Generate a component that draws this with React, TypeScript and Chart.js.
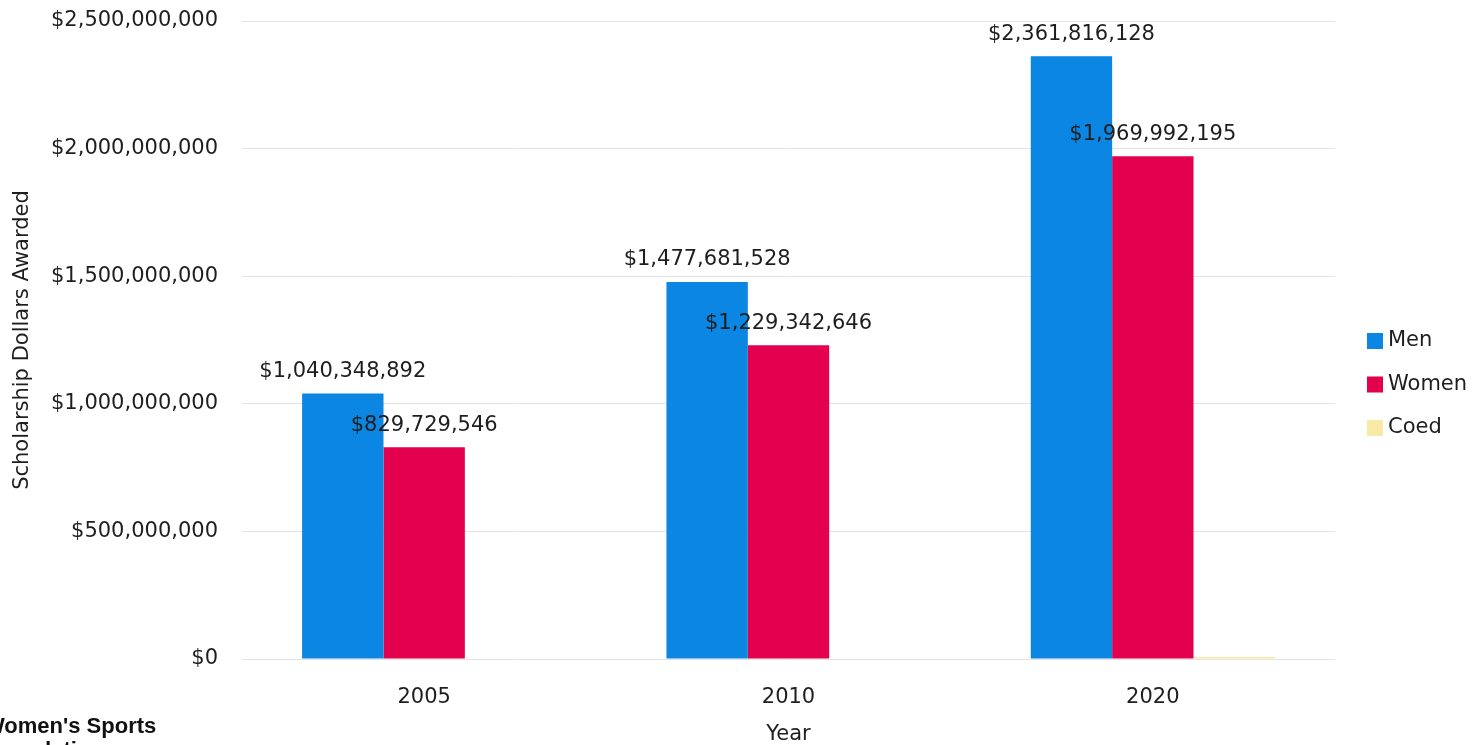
import React, { useEffect, useRef } from "react";
import { Chart, registerables } from "chart.js";

Chart.register(...registerables);

const years = ["2005", "2010", "2020"];
const menValues = [1040348892, 1477681528, 2361816128];
const womenValues = [829729546, 1229342646, 1969992195];
const coedValues = [0, 0, 8000000];
const seriesNames = ["Men", "Women", "Coed"];
const seriesColors = ["#0b86e3", "#e2004f", "#f8eaa4"];
const yTickMax = 2500000000;
const yTickStep = 500000000;
const yTitle = "Scholarship Dollars Awarded";
const xTitle = "Year";
const logoLines = ["Women's Sports", "Foundation"];

const FONT = '"DejaVu Sans", sans-serif';
const TEXT = "#1e1e1e";
const FS = 21;

const fmt = (v: number) => "$" + Math.round(v).toLocaleString("en-US");

const labelPlugin = {
  id: "barLabels",
  afterDatasetsDraw(chart: any) {
    const ctx = chart.ctx;
    ctx.save();
    ctx.font = `${FS}px ${FONT}`;
    ctx.fillStyle = TEXT;
    ctx.textAlign = "center";
    ctx.textBaseline = "middle";
    [0, 1].forEach((di) => {
      const meta = chart.getDatasetMeta(di);
      meta.data.forEach((el: any, i: number) => {
        const v = chart.data.datasets[di].data[i] as number;
        if (!v) return;
        ctx.fillText(fmt(v), el.x, el.y - 22);
      });
    });
    ctx.restore();
  },
  afterDraw(chart: any) {
    const ctx = chart.ctx;
    ctx.save();
    // legend
    const lx = chart.chartArea.right + 32;
    const ly0 = 341;
    const step = 43.5;
    ctx.font = `${FS}px ${FONT}`;
    ctx.textAlign = "left";
    ctx.textBaseline = "middle";
    chart.data.datasets.forEach((ds: any, i: number) => {
      const cy = ly0 + i * step;
      ctx.fillStyle = ds.backgroundColor;
      ctx.fillRect(lx, cy - 8, 16, 16);
      ctx.fillStyle = TEXT;
      ctx.fillText(ds.label, lx + 21, cy);
    });
    // logo text
    ctx.font = `bold 22px "Liberation Sans", sans-serif`;
    ctx.fillStyle = "#111";
    ctx.textBaseline = "alphabetic";
    ctx.fillText(logoLines[0], -16, 733);
    ctx.fillText(logoLines[1], -16, 757);
    ctx.restore();
  },
};

export default function App() {
  const ref = useRef<HTMLCanvasElement | null>(null);
  useEffect(() => {
    if (!ref.current) return;
    const values = [menValues, womenValues, coedValues];
    const chart = new Chart(ref.current, {
      type: "bar",
      data: {
        labels: years,
        datasets: seriesNames.map((name, i) => ({
          label: name,
          data: values[i],
          backgroundColor: seriesColors[i],
          borderWidth: 0,
          categoryPercentage: 0.67,
          barPercentage: 1,
        })),
      },
      options: {
        animation: false,
        responsive: true,
        maintainAspectRatio: false,
        layout: { padding: { top: 21, left: 0, right: 140, bottom: -2 } },
        plugins: {
          tooltip: { enabled: false },
          legend: { display: false },
        },
        scales: {
          x: {
            grid: { display: false, drawTicks: false },
            border: { display: false },
            ticks: { color: TEXT, font: { family: FONT, size: FS }, padding: 26, maxRotation: 0, minRotation: 0 },
            title: {
              display: true,
              text: xTitle,
              color: TEXT,
              font: { family: FONT, size: FS },
              padding: { top: 0, bottom: 0 },
            },
            afterFit: (s: any) => {
              s.height = 88;
            },
          },
          y: {
            min: 0,
            max: yTickMax,
            grid: { color: "#e3e3e3", drawTicks: false },
            border: { display: false },
            ticks: {
              stepSize: yTickStep,
              color: TEXT,
              font: { family: FONT, size: FS },
              padding: 24,
              callback: (v: any) => fmt(Number(v)),
            },
            title: {
              display: true,
              text: yTitle,
              color: TEXT,
              font: { family: FONT, size: FS },
              padding: { top: 10, bottom: 0 },
            },
            afterFit: (s: any) => {
              s.width = 242;
              s.paddingTop = 0;
              s.paddingBottom = 0;
            },
          },
        },
      },
      plugins: [labelPlugin],
    });
    return () => chart.destroy();
  }, []);
  return (
    <div style={{ position: "fixed", left: 0, top: 0, width: 1475, height: 745, background: "#fff" }}>
      <canvas ref={ref} />
    </div>
  );
}
